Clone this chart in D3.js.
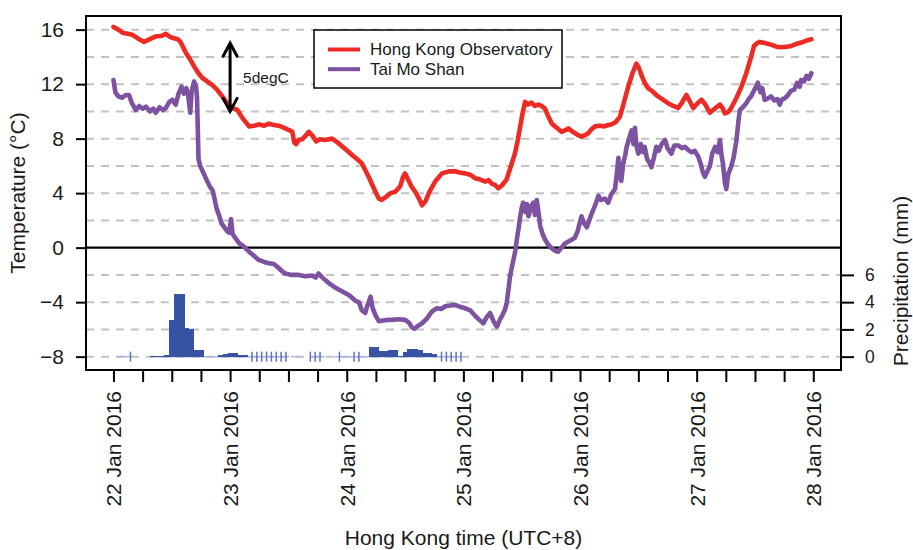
<!DOCTYPE html>
<html><head><meta charset="utf-8">
<script src="https://cdn.jsdelivr.net/npm/d3@7"></script>
<style>
body{margin:0;background:#fff;}
svg text{font-family:"Liberation Sans",Arial,Helvetica,sans-serif;fill:#1a1a1a;}
</style></head><body>
<svg id="chart" width="913" height="550"></svg>
<script>
// Hourly offsets from 22 Jan 2016 00:00 (HKT) paired with temperature in °C
const hkoSeries = [
[0,16.2],[1,16.0],[2,15.75],[3,15.7],[4,15.6],[5,15.35],[6.3,15.1],[7.5,15.3],[8.7,15.5],[10,15.55],
[10.8,15.7],[11.5,15.5],[12.1,15.4],[13.2,15.3],[13.8,15.1],[14.9,14.3],[15.8,13.8],[16.6,13.3],[17.5,12.8],
[18.3,12.45],[19.3,12.2],[20.3,11.95],[21.3,11.6],[22.4,11.1],[23.4,10.6],[24.4,10.25],[25.5,10.1],[26.2,9.7],
[26.8,9.4],[27.9,8.9],[29,8.95],[29.9,9.05],[31,8.95],[32,9.1],[33,9.0],[34,8.95],[35,8.8],[36,8.65],[36.8,8.5],
[37.2,7.7],[37.6,7.6],[38.1,7.9],[38.8,7.95],[39.5,8.2],[40.2,8.5],[41,8.2],[41.7,7.8],[42.5,7.95],[43.5,7.9],
[45,8.0],[46,7.75],[47,7.45],[48,7.15],[49.1,6.8],[50.1,6.5],[51.1,6.2],[52.5,5.2],[53.9,4.1],[54.6,3.6],
[55.2,3.5],[56,3.7],[57,4.0],[58,4.1],[59,4.5],[59.6,5.2],[60,5.45],[60.7,4.95],[61.3,4.5],[62.1,4.1],[63,3.5],
[63.5,3.1],[64.2,3.4],[65,4.1],[66.2,4.85],[67.6,5.45],[69,5.6],[70.3,5.6],[71.4,5.5],[72.4,5.45],[73.4,5.35],
[74.4,5.1],[75.5,5.0],[76.5,4.85],[77.2,4.95],[77.8,4.7],[78.5,4.6],[79.2,4.35],[80,4.6],[80.9,5.0],[81.7,5.9],
[82.6,6.9],[83.2,7.9],[83.7,8.9],[84.2,9.9],[84.7,10.7],[85.3,10.5],[86,10.65],[86.7,10.4],[87.4,10.5],[88.1,10.4],
[88.8,10.2],[89.5,9.6],[90.2,9.1],[91.2,8.8],[92.2,8.5],[92.9,8.6],[93.6,8.75],[94.5,8.5],[95.4,8.3],[96.3,8.15],
[97,8.25],[97.7,8.4],[98.4,8.7],[99.1,8.9],[100,8.95],[101,8.9],[101.8,9.0],[102.5,9.05],[103.3,9.2],[104.2,9.6],
[105,10.6],[105.9,11.8],[106.8,12.8],[107.6,13.5],[108.1,13.2],[108.6,12.7],[109.3,12.1],[110,11.7],[110.8,11.5],
[111.7,11.2],[112.9,10.9],[114.1,10.6],[115.2,10.4],[116.2,10.25],[116.9,10.6],[117.9,11.2],[118.5,10.8],
[119.3,10.25],[120.2,10.6],[121,10.85],[121.8,10.5],[122.7,9.9],[123.7,10.2],[124.8,10.5],[125.4,10.2],
[125.8,9.85],[126.5,9.95],[127.1,10.25],[128.2,11.0],[129.2,11.8],[130.2,12.8],[131.2,14.0],[131.8,14.8],
[132.4,15.0],[133,15.1],[134.2,15.0],[135.3,14.9],[136.4,14.75],[137.4,14.7],[138.5,14.75],[139.5,14.8],
[140.5,14.95],[141.5,15.05],[142.6,15.2],[143.6,15.3]
];

const tmsSeries = [
[0,12.3],[0.4,11.4],[1,11.1],[1.8,11.0],[2.5,11.2],[3.2,11.2],[3.8,10.6],[4.6,10.1],[5.3,10.4],[6,10.2],
[6.7,10.35],[7.5,10.0],[8.2,10.2],[8.7,9.9],[9.5,10.3],[10.2,10.1],[10.8,10.25],[11.5,10.7],[12.1,10.85],
[12.8,10.5],[13.4,11.3],[14,11.8],[14.5,11.3],[15,11.7],[15.4,11.1],[15.8,9.9],[16.1,11.5],[16.6,12.2],
[17.0,11.8],[17.2,11.0],[17.5,6.5],[17.9,5.95],[18.5,5.5],[19.2,4.95],[19.8,4.5],[20.4,4.2],[20.8,3.6],
[21.2,2.9],[21.7,2.4],[22.2,1.8],[22.8,1.5],[23.4,1.2],[23.8,1.1],[24.2,2.1],[24.5,1.0],[25.8,0.35],
[26.8,0.1],[27.9,-0.3],[28.9,-0.6],[29.9,-0.9],[31,-1.05],[32,-1.15],[33,-1.2],[33.7,-1.4],[34.6,-1.7],
[35.4,-1.9],[36.5,-2.0],[38.1,-2.0],[39.5,-2.1],[40.9,-2.05],[41.6,-2.2],[42.2,-1.9],[43,-2.2],[44.3,-2.6],
[45.5,-2.9],[47,-3.2],[48.5,-3.5],[49.8,-3.9],[50.5,-4.0],[51.1,-4.6],[51.8,-4.8],[52.2,-4.3],[52.9,-3.6],
[53.3,-4.4],[53.9,-4.95],[54.6,-5.4],[55.5,-5.35],[56.5,-5.3],[57.3,-5.3],[58.5,-5.25],[60,-5.3],[60.8,-5.5],
[61.4,-5.85],[61.9,-5.95],[62.6,-5.75],[63.5,-5.55],[64.5,-5.2],[65.5,-4.7],[66.5,-4.45],[67.4,-4.5],
[68.3,-4.3],[69.3,-4.25],[70.3,-4.2],[71.4,-4.35],[72.4,-4.45],[73.4,-4.6],[74.4,-5.0],[75.3,-5.3],
[76.1,-5.55],[76.8,-5.1],[77.5,-4.8],[78.2,-5.4],[78.9,-5.8],[79.5,-5.3],[79.9,-5.05],[80.5,-4.6],[80.9,-4.1],
[81.3,-3.0],[81.6,-2.1],[82.0,-1.4],[82.3,-0.9],[82.7,-0.2],[83.0,0.6],[83.4,1.5],[83.7,2.3],[84.0,2.9],
[84.3,3.3],[84.8,2.6],[85.1,3.2],[85.4,2.3],[85.9,3.0],[86.4,3.3],[86.7,2.4],[87.1,3.5],[87.5,2.5],[87.8,1.6],
[88.3,1.0],[88.8,0.6],[89.5,0.2],[90.2,-0.05],[91.0,-0.25],[91.5,-0.3],[92.2,0.0],[92.9,0.3],[93.9,0.5],
[94.9,0.7],[95.5,1.2],[96.0,1.9],[96.3,2.3],[96.8,1.8],[97.4,1.5],[98.0,2.1],[98.4,2.5],[99.1,3.1],[99.8,3.8],
[100.3,3.5],[101.1,3.6],[101.8,3.3],[102.4,3.9],[102.8,4.1],[103.2,4.3],[103.6,5.5],[103.9,6.6],[104.2,5.2],
[104.5,4.9],[104.9,6.2],[105.3,6.8],[105.6,7.4],[106.1,8.0],[106.6,8.6],[107.0,7.6],[107.3,8.8],[107.6,7.5],
[108.0,6.9],[108.5,7.6],[109.0,7.0],[109.3,7.4],[109.8,6.5],[110.2,6.3],[110.7,5.9],[111.2,6.6],[111.7,7.4],
[112.2,7.1],[112.8,7.6],[113.5,7.9],[114.0,7.3],[114.8,6.9],[115.4,7.5],[116.2,7.5],[117.0,7.3],[117.6,7.4],
[118.3,7.15],[119.0,7.0],[119.6,7.1],[120.3,6.7],[120.8,6.2],[121.3,5.5],[121.7,5.2],[122.2,5.6],[122.7,5.95],
[123.2,6.9],[123.8,7.4],[124.3,7.0],[124.8,7.9],[125.1,6.8],[125.4,6.2],[125.8,4.8],[126.1,4.3],[126.5,5.4],
[127.1,5.95],[127.6,6.6],[128.2,7.9],[128.6,9.3],[128.9,10.1],[129.5,10.3],[130.2,10.6],[130.7,10.9],
[131.2,11.1],[131.9,11.6],[132.6,12.1],[133.1,11.4],[133.5,11.7],[134.0,10.85],[134.7,10.95],[135.3,11.1],
[136.0,10.8],[136.6,10.9],[137.1,10.5],[137.6,10.9],[138.1,10.95],[138.8,11.2],[139.4,11.5],[140.1,11.6],
[140.7,12.1],[141.2,11.8],[141.5,12.3],[142.1,12.2],[142.6,12.6],[143.1,12.4],[143.6,12.8]
];

// Hourly rainfall (mm), hour index = end of the hour from 22 Jan 00:00
const rainHours = [8,9,10,11,12,13,14,15,16,17,18,22,23,24,25,26,27,
                   53,54,55,56,57,58,59,60,61,62,63,64,65,66];
const rainMm    = [0.08,0.08,0.08,0.1,2.7,4.6,4.6,2.1,2.0,0.5,0.5,0.15,0.2,0.3,0.3,0.1,0.1,
                   0.68,0.68,0.45,0.38,0.48,0.48,0.05,0.35,0.55,0.55,0.5,0.28,0.25,0.2];
// Hours with trace rainfall and spans with zero readings
const traceHours = [3.5,28.5,29.5,30.5,31.5,32.5,33.5,34.5,35.5,40.5,41.5,42.5,46.5,49.5,50.5,
                    67.5,68.5,69.5,70.5,71.5];
const zeroSpans = [[0.5,3.5],[7.5,35.5],[36.5,38.2],[40.5,43.5],[45.5,71.5]];

const tempTicks = [-8,-4,0,4,8,12,16];
const gridTemps = [-8,-6,-4,-2,2,4,6,8,10,12,14,16];
const rainTicks = [0,2,4,6];
const legendItems = [{name:"Hong Kong Observatory", color:"#ee2a24"},{name:"Tai Mo Shan", color:"#7d52a1"}];

const t0 = Date.UTC(2016,0,22);
const at = h => new Date(t0 + h*3600e3);

const L=86, T=16, R=841, B=370;
const svg = d3.select("#chart");
const x = d3.scaleUtc().domain([at(-5.65), at(149.7)]).range([L,R]);
const y = d3.scaleLinear().domain([-8.98,17.0]).range([B,T]);
// rainfall axis shares the frame: 0 mm sits on the -8 °C line
const yr = d3.scaleLinear().domain([-8.98+8, 17.0+8]).range([B,T]);

// gridlines
svg.append("g").selectAll("line").data(gridTemps).join("line")
  .attr("x1",L).attr("x2",R).attr("y1",d=>y(d)).attr("y2",d=>y(d))
  .attr("stroke","#c2c2c2").attr("stroke-width",2).attr("stroke-dasharray","8,7");
svg.append("line").attr("x1",L).attr("x2",R).attr("y1",y(0)).attr("y2",y(0))
  .attr("stroke","#000").attr("stroke-width",2.2);

// rainfall
const rg = svg.append("g");
rg.selectAll("line.zero").data(zeroSpans).join("line").attr("class","zero")
  .attr("x1",d=>x(at(d[0]))).attr("x2",d=>x(at(d[1]))).attr("y1",yr(0)).attr("y2",yr(0))
  .attr("stroke","#aab6e2").attr("stroke-width",1.5);
rg.selectAll("line.trace").data(traceHours).join("line").attr("class","trace")
  .attr("x1",d=>x(at(d))).attr("x2",d=>x(at(d))).attr("y1",yr(0)-5).attr("y2",yr(0)+5)
  .attr("stroke","#5d72c2").attr("stroke-width",1.5);
rg.selectAll("rect").data(rainHours.map((h,i)=>[h,rainMm[i]])).join("rect")
  .attr("x",d=>x(at(d[0]-0.5))).attr("width",d=>x(at(d[0]+0.5))-x(at(d[0]-0.5))+0.6)
  .attr("y",d=>yr(d[1])).attr("height",d=>yr(0)-yr(d[1]))
  .attr("fill","#3953a4").attr("shape-rendering","crispEdges");

// temperature lines
const line = d3.line().x(d=>x(at(d[0]))).y(d=>y(d[1]));
svg.append("path").datum(tmsSeries).attr("d",line).attr("fill","none")
  .attr("stroke",legendItems[1].color).attr("stroke-width",4.6).attr("stroke-linejoin","round").attr("stroke-linecap","round");
svg.append("path").datum(hkoSeries).attr("d",line).attr("fill","none")
  .attr("stroke",legendItems[0].color).attr("stroke-width",4.6).attr("stroke-linejoin","round").attr("stroke-linecap","round");

// 5 degC scale arrow
const ax = x(at(24)), ay1 = y(15), ay2 = y(10);
const ag = svg.append("g").attr("stroke","#000").attr("stroke-width",3).attr("fill","none").attr("stroke-linecap","round");
ag.append("line").attr("x1",ax).attr("x2",ax).attr("y1",ay1+1).attr("y2",ay2-1);
ag.append("polyline").attr("points",`${ax-7},${ay1+13} ${ax},${ay1} ${ax+7},${ay1+13}`);
ag.append("polyline").attr("points",`${ax-7},${ay2-13} ${ax},${ay2} ${ax+7},${ay2-13}`);
svg.append("text").attr("x",ax+13).attr("y",y(12.5)).attr("dy","0.35em")
  .attr("font-size",15.5).text("5degC");

// legend
const lg = svg.append("g");
lg.append("rect").attr("x",314).attr("y",30).attr("width",248).attr("height",58)
  .attr("fill","#fff").attr("stroke","#000").attr("stroke-width",1.5);
legendItems.forEach((d,i)=>{
  const cy = 49.5 + i*19.7;
  lg.append("line").attr("x1",328).attr("x2",360).attr("y1",cy).attr("y2",cy)
    .attr("stroke",d.color).attr("stroke-width",4);
  lg.append("text").attr("x",370).attr("y",cy).attr("dy","0.35em").attr("font-size",17).text(d.name);
});

// frame
svg.append("rect").attr("x",L).attr("y",T).attr("width",R-L).attr("height",B-T)
  .attr("fill","none").attr("stroke","#000").attr("stroke-width",2);

// axes
const fmtDay = d3.utcFormat("%d %b %Y");
const gx = svg.append("g").attr("transform",`translate(0,${B})`)
  .call(d3.axisBottom(x).ticks(d3.utcHour.every(6)).tickSize(12)
    .tickFormat(d => d.getUTCHours()===0 ? fmtDay(d) : ""));
gx.select(".domain").remove();
gx.selectAll("line").attr("stroke","#000").attr("stroke-width",2);
gx.selectAll("text").attr("transform","rotate(-90)").attr("text-anchor","end")
  .attr("x",-21).attr("y",0).attr("dy","0.35em")
  .attr("font-size",21).attr("font-family","Liberation Sans, Arial, sans-serif").attr("fill","#1a1a1a");

const gy = svg.append("g").attr("transform",`translate(${L},0)`)
  .call(d3.axisLeft(y).tickValues(tempTicks).tickSize(10).tickPadding(12));
gy.select(".domain").remove();
gy.selectAll("line").attr("stroke","#000").attr("stroke-width",2);
gy.selectAll("text").attr("font-size",21).attr("font-family","Liberation Sans, Arial, sans-serif").attr("fill","#1a1a1a");

const gr = svg.append("g").attr("transform",`translate(${R},0)`)
  .call(d3.axisRight(yr).tickValues(rainTicks).tickSize(13).tickPadding(11));
gr.select(".domain").remove();
gr.selectAll("line").attr("stroke","#000").attr("stroke-width",2);
gr.selectAll("text").attr("font-size",17.5).attr("font-family","Liberation Sans, Arial, sans-serif").attr("fill","#1a1a1a");

// axis titles
svg.append("text").attr("transform",`translate(25,${(T+B)/2}) rotate(-90)`)
  .attr("text-anchor","middle").attr("font-size",21).text("Temperature (°C)");
svg.append("text").attr("transform",`translate(908,281) rotate(-90)`)
  .attr("text-anchor","middle").attr("font-size",21).text("Precipitation (mm)");
svg.append("text").attr("x",(L+R)/2).attr("y",545)
  .attr("text-anchor","middle").attr("font-size",21).text("Hong Kong time (UTC+8)");
</script>
</body></html>
